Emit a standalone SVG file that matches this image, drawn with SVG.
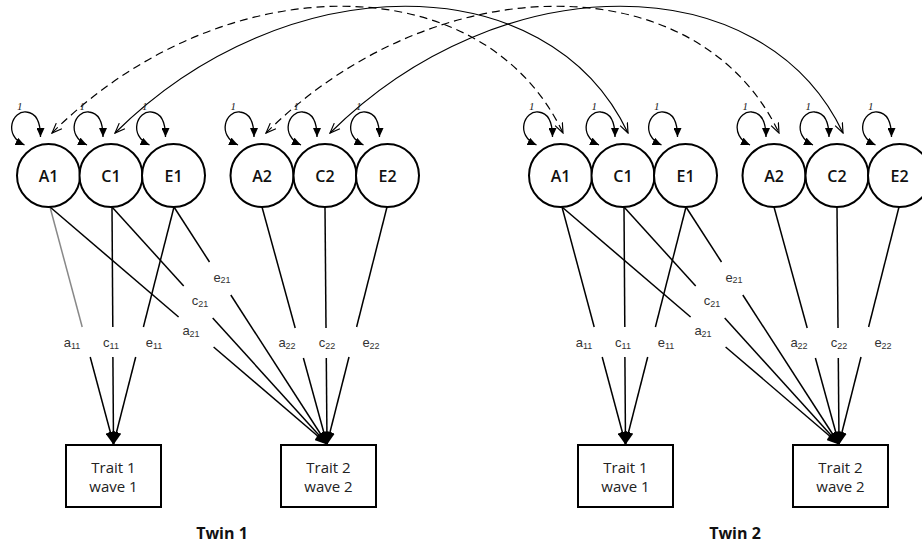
<svg xmlns="http://www.w3.org/2000/svg" width="922" height="550" viewBox="0 0 922 550">
<style>
.lv{fill:#fff;stroke:#000;stroke-width:2}
.lvt{font-family:"Open Sans","Noto Sans",sans-serif;font-size:16px;font-weight:600;text-anchor:middle;fill:#111}
.box{fill:#fff;stroke:#000;stroke-width:2}
.bt{font-family:"Open Sans","Noto Sans",sans-serif;font-size:15px;text-anchor:middle;fill:#222}
.tw{font-family:"Open Sans","Noto Sans",sans-serif;font-size:16px;font-weight:700;text-anchor:middle;fill:#111}
.pl{font-family:"Liberation Sans",Arial,sans-serif;font-size:13px;text-anchor:middle;fill:#333}
.sub{font-size:9px}
.one{font-family:"Liberation Serif",serif;font-size:11px;font-style:italic;fill:#222}
.loop{fill:none;stroke:#000;stroke-width:1.3;marker-start:url(#fa);marker-end:url(#fa)}
.arc{fill:none;stroke:#000;stroke-width:1.2;marker-start:url(#oa);marker-end:url(#oa)}
.dash{stroke-dasharray:8 5}
.pth{stroke:#000;stroke-width:1.5;fill:none}
.gray{stroke:#888}
.hd{marker-end:url(#ta)}
</style>
<defs>
<marker id="fa" markerUnits="userSpaceOnUse" markerWidth="9" markerHeight="8" viewBox="0 0 9 8" refX="9" refY="4" orient="auto-start-reverse"><path d="M0,0 L9,4 L0,8 z" fill="#000"/></marker>
<marker id="oa" markerUnits="userSpaceOnUse" markerWidth="11" markerHeight="10" viewBox="0 0 11 10" refX="10" refY="5" orient="auto-start-reverse"><path d="M0,1 L10,5 L0,9" fill="none" stroke="#000" stroke-width="1.2"/></marker>
<marker id="ta" markerUnits="userSpaceOnUse" markerWidth="13" markerHeight="10" viewBox="0 0 13 10" refX="12" refY="5" orient="auto"><path d="M0,0 L13,5 L0,10 z" fill="#000"/></marker>
</defs>

<g id="connectors">
<path class="arc dash" d="M52,133 C222,-36 483,-36 563,133"/>
<path class="arc" d="M115,133 C285,-36 548,-36 628,133"/>
<path class="arc dash" d="M266,133 C436,-36 699,-36 779,133"/>
<path class="arc" d="M330,133 C500,-36 763,-36 843,133"/>

<path class="loop" d="M24.5,145 C2.5,135 12.5,110 26.5,112 C36.5,113 40.5,122 40.5,137"/>
<path class="loop" d="M87,145 C65,135 75,110 89,112 C99,113 103,122 103,137"/>
<path class="loop" d="M149.5,145 C127.5,135 137.5,110 151.5,112 C161.5,113 165.5,122 165.5,137"/>
<path class="loop" d="M238,145 C216,135 226,110 240,112 C250,113 254,122 254,137"/>
<path class="loop" d="M301,145 C279,135 289,110 303,112 C313,113 317,122 317,137"/>
<path class="loop" d="M363.5,145 C341.5,135 351.5,110 365.5,112 C375.5,113 379.5,122 379.5,137"/>
<path class="loop" d="M536.5,145 C514.5,135 524.5,110 538.5,112 C548.5,113 552.5,122 552.5,137"/>
<path class="loop" d="M599,145 C577,135 587,110 601,112 C611,113 615,122 615,137"/>
<path class="loop" d="M661.5,145 C639.5,135 649.5,110 663.5,112 C673.5,113 677.5,122 677.5,137"/>
<path class="loop" d="M750,145 C728,135 738,110 752,112 C762,113 766,122 766,137"/>
<path class="loop" d="M813,145 C791,135 801,110 815,112 C825,113 829,122 829,137"/>
<path class="loop" d="M875.5,145 C853.5,135 863.5,110 877.5,112 C887.5,113 891.5,122 891.5,137"/>

<line class="pth gray" x1="50" y1="207" x2="82.2" y2="327"/>
<line class="pth hd" x1="90.2" y1="357" x2="113.5" y2="444"/>
<line class="pth" x1="112" y1="207" x2="112.8" y2="327"/>
<line class="pth hd" x1="112.9" y1="357" x2="113.5" y2="444"/>
<line class="pth" x1="174" y1="207" x2="143.4" y2="327"/>
<line class="pth hd" x1="135.7" y1="357" x2="113.5" y2="444"/>
<line class="pth" x1="50" y1="207" x2="178.6" y2="317"/>
<line class="pth hd" x1="213.6" y1="347" x2="327" y2="444"/>
<line class="pth" x1="112" y1="207" x2="183.7" y2="286"/>
<line class="pth hd" x1="212.7" y1="318" x2="327" y2="444"/>
<line class="pth" x1="174" y1="207" x2="209.5" y2="262"/>
<line class="pth hd" x1="230.8" y1="295" x2="327" y2="444"/>
<line class="pth" x1="262" y1="207" x2="295.2" y2="328"/>
<line class="pth hd" x1="303.4" y1="358" x2="327" y2="444"/>
<line class="pth" x1="325" y1="207" x2="326" y2="328"/>
<line class="pth hd" x1="326.3" y1="358" x2="327" y2="444"/>
<line class="pth" x1="387" y1="207" x2="356.6" y2="327"/>
<line class="pth hd" x1="349" y1="357" x2="327" y2="444"/>

<line class="pth" x1="562" y1="207" x2="594.2" y2="327"/>
<line class="pth hd" x1="602.2" y1="357" x2="625.5" y2="444"/>
<line class="pth" x1="624" y1="207" x2="624.8" y2="327"/>
<line class="pth hd" x1="624.9" y1="357" x2="625.5" y2="444"/>
<line class="pth" x1="686" y1="207" x2="655.4" y2="327"/>
<line class="pth hd" x1="647.7" y1="357" x2="625.5" y2="444"/>
<line class="pth" x1="562" y1="207" x2="690.6" y2="317"/>
<line class="pth hd" x1="725.6" y1="347" x2="839" y2="444"/>
<line class="pth" x1="624" y1="207" x2="695.7" y2="286"/>
<line class="pth hd" x1="724.7" y1="318" x2="839" y2="444"/>
<line class="pth" x1="686" y1="207" x2="721.5" y2="262"/>
<line class="pth hd" x1="742.8" y1="295" x2="839" y2="444"/>
<line class="pth" x1="774" y1="207" x2="807.2" y2="328"/>
<line class="pth hd" x1="815.4" y1="358" x2="839" y2="444"/>
<line class="pth" x1="837" y1="207" x2="838" y2="328"/>
<line class="pth hd" x1="838.3" y1="358" x2="839" y2="444"/>
<line class="pth" x1="899" y1="207" x2="868.6" y2="327"/>
<line class="pth hd" x1="861" y1="357" x2="839" y2="444"/>
</g>

<g id="loop-labels">
<text class="one" x="17" y="110">1</text>
<text class="one" x="79.5" y="110">1</text>
<text class="one" x="142" y="110">1</text>
<text class="one" x="230.5" y="110">1</text>
<text class="one" x="293.5" y="110">1</text>
<text class="one" x="356" y="110">1</text>
<text class="one" x="529" y="110">1</text>
<text class="one" x="591.5" y="110">1</text>
<text class="one" x="654" y="110">1</text>
<text class="one" x="742.5" y="110">1</text>
<text class="one" x="805.5" y="110">1</text>
<text class="one" x="868" y="110">1</text>
</g>

<g id="path-labels">
<text class="pl" x="72" y="347">a<tspan class="sub" dy="1.5">11</tspan></text>
<text class="pl" x="111" y="347">c<tspan class="sub" dy="1.5">11</tspan></text>
<text class="pl" x="154" y="347">e<tspan class="sub" dy="1.5">11</tspan></text>
<text class="pl" x="191" y="335">a<tspan class="sub" dy="1.5">21</tspan></text>
<text class="pl" x="200" y="305">c<tspan class="sub" dy="1.5">21</tspan></text>
<text class="pl" x="222" y="281.5">e<tspan class="sub" dy="1.5">21</tspan></text>
<text class="pl" x="287" y="347">a<tspan class="sub" dy="1.5">22</tspan></text>
<text class="pl" x="327" y="347">c<tspan class="sub" dy="1.5">22</tspan></text>
<text class="pl" x="371" y="347">e<tspan class="sub" dy="1.5">22</tspan></text>
<text class="pl" x="584" y="347">a<tspan class="sub" dy="1.5">11</tspan></text>
<text class="pl" x="623" y="347">c<tspan class="sub" dy="1.5">11</tspan></text>
<text class="pl" x="666" y="347">e<tspan class="sub" dy="1.5">11</tspan></text>
<text class="pl" x="703" y="335">a<tspan class="sub" dy="1.5">21</tspan></text>
<text class="pl" x="712" y="305">c<tspan class="sub" dy="1.5">21</tspan></text>
<text class="pl" x="734" y="281.5">e<tspan class="sub" dy="1.5">21</tspan></text>
<text class="pl" x="799" y="347">a<tspan class="sub" dy="1.5">22</tspan></text>
<text class="pl" x="839" y="347">c<tspan class="sub" dy="1.5">22</tspan></text>
<text class="pl" x="883" y="347">e<tspan class="sub" dy="1.5">22</tspan></text>
</g>

<g id="t1-A1"><circle class="lv" cx="48.5" cy="175.5" r="31.5"/><text class="lvt" x="48.5" y="181.5">A1</text></g>
<g id="t1-C1"><circle class="lv" cx="111" cy="175.5" r="31.5"/><text class="lvt" x="111" y="181.5">C1</text></g>
<g id="t1-E1"><circle class="lv" cx="173.5" cy="175.5" r="31.5"/><text class="lvt" x="173.5" y="181.5">E1</text></g>
<g id="t1-A2"><circle class="lv" cx="262" cy="175.5" r="31.5"/><text class="lvt" x="262" y="181.5">A2</text></g>
<g id="t1-C2"><circle class="lv" cx="325" cy="175.5" r="31.5"/><text class="lvt" x="325" y="181.5">C2</text></g>
<g id="t1-E2"><circle class="lv" cx="387.5" cy="175.5" r="31.5"/><text class="lvt" x="387.5" y="181.5">E2</text></g>
<g id="t2-A1"><circle class="lv" cx="560.5" cy="175.5" r="31.5"/><text class="lvt" x="560.5" y="181.5">A1</text></g>
<g id="t2-C1"><circle class="lv" cx="623" cy="175.5" r="31.5"/><text class="lvt" x="623" y="181.5">C1</text></g>
<g id="t2-E1"><circle class="lv" cx="685.5" cy="175.5" r="31.5"/><text class="lvt" x="685.5" y="181.5">E1</text></g>
<g id="t2-A2"><circle class="lv" cx="774" cy="175.5" r="31.5"/><text class="lvt" x="774" y="181.5">A2</text></g>
<g id="t2-C2"><circle class="lv" cx="837" cy="175.5" r="31.5"/><text class="lvt" x="837" y="181.5">C2</text></g>
<g id="t2-E2"><circle class="lv" cx="899.5" cy="175.5" r="31.5"/><text class="lvt" x="899.5" y="181.5">E2</text></g>

<g id="t1-trait1"><rect class="box" x="66" y="445" width="95" height="62"/><text class="bt" x="113.5" y="472.5">Trait 1</text><text class="bt" x="113.5" y="492">wave 1</text></g>
<g id="t1-trait2"><rect class="box" x="281" y="445" width="95" height="62"/><text class="bt" x="328.5" y="472.5">Trait 2</text><text class="bt" x="328.5" y="492">wave 2</text></g>
<g id="t2-trait1"><rect class="box" x="578" y="445" width="95" height="62"/><text class="bt" x="625.5" y="472.5">Trait 1</text><text class="bt" x="625.5" y="492">wave 1</text></g>
<g id="t2-trait2"><rect class="box" x="793" y="445" width="95" height="62"/><text class="bt" x="840.5" y="472.5">Trait 2</text><text class="bt" x="840.5" y="492">wave 2</text></g>

<g id="twin1-label"><text class="tw" x="222" y="539">Twin 1</text></g>
<g id="twin2-label"><text class="tw" x="735" y="539">Twin 2</text></g>
</svg>
